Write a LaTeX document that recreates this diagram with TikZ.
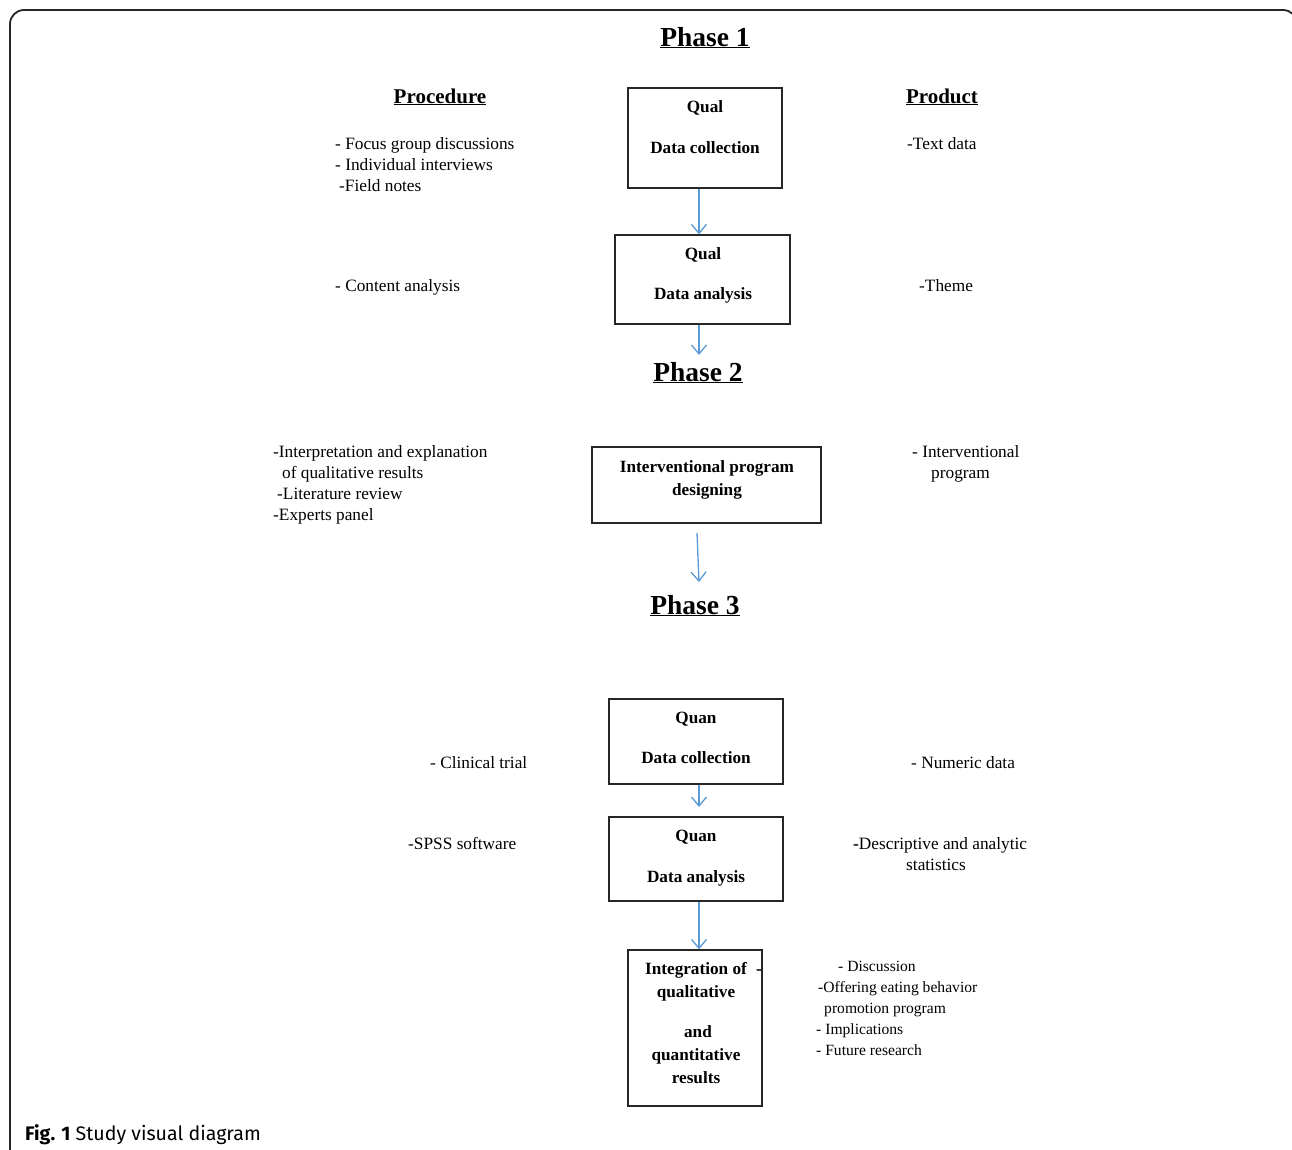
\documentclass[tikz,border=0pt]{standalone}
\usepackage{fontspec}
\setmainfont{Liberation Serif}
\newfontfamily\capfont{Fira Sans}
\usetikzlibrary{arrows.meta}
\begin{document}
\begin{tikzpicture}[x=1pt,y=-1pt,
  txt/.style={inner sep=0pt,anchor=base west,font=\fontsize{17.3}{20}\selectfont},
  sml/.style={inner sep=0pt,anchor=base west,font=\fontsize{15.6}{19}\selectfont},
  btxt/.style={inner sep=0pt,anchor=base,font=\fontsize{17.2}{20}\selectfont\bfseries},
  phase/.style={inner sep=0pt,anchor=base,font=\fontsize{27.5}{30}\selectfont\bfseries},
  head/.style={inner sep=0pt,anchor=base,font=\fontsize{21}{24}\selectfont\bfseries},
  boxx/.style={draw=black!85,line width=1.3pt,inner sep=0pt,minimum width=#1},
  arr/.style={draw={rgb,255:red,91;green,155;blue,213},line width=1.3pt,-{Straight Barb[length=9pt,width=15pt,line width=1.3pt]}}
]
\useasboundingbox (0,0) rectangle (1292,1149);
% frame
\draw[line width=1.8pt,black!85,rounded corners=14pt] (10,1152) -- (10,10) -- (1297,10) -- (1297,1152);
% caption
\node[inner sep=0pt,anchor=base west,font=\capfont\fontsize{19.6}{22}\selectfont] (cap) at (25,1140) {\textbf{Fig. 1} Study visual diagram};

% Phase headings
\node[phase] (ph1) at (705,46) {\underline{Phase 1}};
\node[phase] (ph2) at (698,381) {\underline{Phase 2}};
\node[phase] (ph3) at (695,614) {\underline{Phase 3}};
\node[head] (proc) at (440,103) {\underline{Procedure}};
\node[head] (prod) at (942,103) {\underline{Product}};

% boxes
\node[boxx=154pt,minimum height=100pt] (b1) at (705,138) {};
\node[btxt] (b1a) at (705,112) {Qual};
\node[btxt] (b1b) at (705,153) {Data collection};

\node[boxx=175pt,minimum height=89pt] (b2) at (702.5,279.5) {};
\node[btxt] (b2a) at (703,259) {Qual};
\node[btxt] (b2b) at (703,299) {Data analysis};

\node[boxx=229pt,minimum height=76pt] (b3) at (706.5,485) {};
\node[btxt] (b3a) at (707,472) {Interventional program};
\node[btxt] (b3b) at (707,495) {designing};

\node[boxx=174pt,minimum height=85pt] (b4) at (696,741.5) {};
\node[btxt] (b4a) at (696,723) {Quan};
\node[btxt] (b4b) at (696,763) {Data collection};

\node[boxx=174pt,minimum height=84pt] (b5) at (696,859) {};
\node[btxt] (b5a) at (696,841) {Quan};
\node[btxt] (b5b) at (696,882) {Data analysis};

\node[boxx=134pt,minimum height=156pt] (b6) at (695,1028) {};
\node[btxt] (b6a) at (696,974) {Integration of};
\node[btxt] (b6b) at (696,997) {qualitative};
\node[btxt] (b6c) at (698,1037) {and};
\node[btxt] (b6d) at (696,1060) {quantitative};
\node[btxt] (b6e) at (696,1083) {results};
\node[btxt] (b6f) at (759,974) {-};

% arrows
\coordinate (ax) at (699,0);
\coordinate (e2) at (699,355);
\coordinate (s3) at (697,533);
\coordinate (e3) at (699,582);
\coordinate (e4) at (699,807);
\draw[arr] (b1.south -| ax) -- (b2.north -| ax);
\draw[arr] (b2.south -| ax) -- (e2);
\draw[arr] (s3) -- (e3);
\draw[arr] (b4.south -| ax) -- (e4);
\draw[arr] (b5.south -| ax) -- (b6.north -| ax);

% procedure texts
\node[txt] (p1) at (335,149) {- Focus group discussions};
\node[txt] (p2) at (335,170) {- Individual interviews};
\node[txt] (p3) at (339,191) {-Field notes};
\node[txt] (p4) at (335,291) {- Content analysis};
\node[txt] (p5) at (273,457) {-Interpretation and explanation};
\node[txt] (p6) at (282,478) {of qualitative results};
\node[txt] (p7) at (277,499) {-Literature review};
\node[txt] (p8) at (273,520) {-Experts panel};
\node[txt] (p9) at (430,768) {- Clinical trial};
\node[txt] (p10) at (408,849) {-SPSS software};

% product texts
\node[txt] (q1) at (907,149) {-Text data};
\node[txt] (q2) at (919,291) {-Theme};
\node[txt] (q3) at (912,457) {- Interventional};
\node[txt] (q4) at (931,478) {program};
\node[txt] (q5) at (911,768) {- Numeric data};
\node[txt] (q6) at (853,849) {\textbf{-}Descriptive and analytic};
\node[txt] (q7) at (906,870) {statistics};
\node[sml] (r1) at (838,971) {- Discussion};
\node[sml] (r2) at (818,992) {-Offering eating behavior};
\node[sml] (r3) at (824,1013) {promotion program};
\node[sml] (r4) at (816,1034) {- Implications};
\node[sml] (r5) at (816,1055) {- Future research};
\end{tikzpicture}
\end{document}
